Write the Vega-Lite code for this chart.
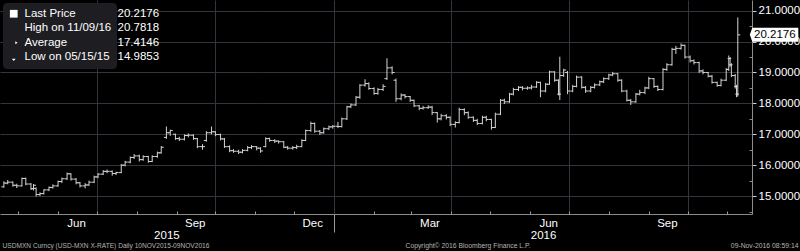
{
  "$schema": "https://vega.github.io/schema/vega-lite/v6.json",
  "width": 752,
  "height": 214,
  "autosize": "none",
  "padding": {"left": 0, "top": 0, "right": 48, "bottom": 37},
  "background": "#000000",
  "config": {
    "view": {"fill": "#08080e", "stroke": null},
    "font": "Liberation Sans"
  },
  "datasets": {
    "px": [
      {"d":"2015-04-20","o":15.30,"h":15.48,"l":15.27,"c":15.42},
      {"d":"2015-04-23","o":15.42,"h":15.52,"l":15.38,"c":15.45},
      {"d":"2015-04-27","o":15.45,"h":15.47,"l":15.30,"c":15.35},
      {"d":"2015-04-30","o":15.35,"h":15.40,"l":15.26,"c":15.33},
      {"d":"2015-05-04","o":15.33,"h":15.60,"l":15.31,"c":15.57},
      {"d":"2015-05-07","o":15.57,"h":15.60,"l":15.35,"c":15.39},
      {"d":"2015-05-11","o":15.39,"h":15.42,"l":15.20,"c":15.24},
      {"d":"2015-05-13","o":15.24,"h":15.39,"l":15.18,"c":15.35},
      {"d":"2015-05-15","o":15.25,"h":15.28,"l":14.9853,"c":15.05},
      {"d":"2015-05-18","o":15.05,"h":15.12,"l":15.00,"c":15.08},
      {"d":"2015-05-21","o":15.08,"h":15.22,"l":15.05,"c":15.20},
      {"d":"2015-05-25","o":15.20,"h":15.31,"l":15.16,"c":15.28},
      {"d":"2015-05-28","o":15.28,"h":15.38,"l":15.24,"c":15.33},
      {"d":"2015-06-01","o":15.33,"h":15.50,"l":15.30,"c":15.47},
      {"d":"2015-06-04","o":15.47,"h":15.60,"l":15.42,"c":15.56},
      {"d":"2015-06-08","o":15.56,"h":15.76,"l":15.52,"c":15.72},
      {"d":"2015-06-11","o":15.72,"h":15.74,"l":15.50,"c":15.55},
      {"d":"2015-06-15","o":15.55,"h":15.58,"l":15.38,"c":15.43},
      {"d":"2015-06-18","o":15.43,"h":15.46,"l":15.28,"c":15.33},
      {"d":"2015-06-22","o":15.33,"h":15.42,"l":15.25,"c":15.36},
      {"d":"2015-06-25","o":15.36,"h":15.50,"l":15.33,"c":15.45},
      {"d":"2015-06-29","o":15.45,"h":15.66,"l":15.42,"c":15.62},
      {"d":"2015-07-02","o":15.62,"h":15.74,"l":15.58,"c":15.71},
      {"d":"2015-07-06","o":15.71,"h":15.84,"l":15.68,"c":15.80},
      {"d":"2015-07-09","o":15.80,"h":15.86,"l":15.74,"c":15.80},
      {"d":"2015-07-13","o":15.80,"h":15.83,"l":15.66,"c":15.73},
      {"d":"2015-07-16","o":15.73,"h":15.79,"l":15.68,"c":15.76},
      {"d":"2015-07-20","o":15.76,"h":16.04,"l":15.74,"c":16.00},
      {"d":"2015-07-23","o":16.00,"h":16.14,"l":15.96,"c":16.10},
      {"d":"2015-07-27","o":16.10,"h":16.28,"l":16.06,"c":16.25},
      {"d":"2015-07-30","o":16.25,"h":16.36,"l":16.20,"c":16.30},
      {"d":"2015-08-03","o":16.30,"h":16.34,"l":16.12,"c":16.18},
      {"d":"2015-08-06","o":16.18,"h":16.32,"l":16.14,"c":16.28},
      {"d":"2015-08-10","o":16.28,"h":16.30,"l":16.08,"c":16.12},
      {"d":"2015-08-13","o":16.12,"h":16.32,"l":16.10,"c":16.28},
      {"d":"2015-08-17","o":16.28,"h":16.44,"l":16.24,"c":16.40},
      {"d":"2015-08-20","o":16.40,"h":16.62,"l":16.37,"c":16.58},
      {"d":"2015-08-24","o":16.90,"h":17.25,"l":16.85,"c":17.05},
      {"d":"2015-08-27","o":17.05,"h":17.15,"l":16.95,"c":17.12},
      {"d":"2015-08-31","o":17.00,"h":17.02,"l":16.82,"c":16.86},
      {"d":"2015-09-03","o":16.86,"h":16.92,"l":16.78,"c":16.84},
      {"d":"2015-09-07","o":16.84,"h":17.00,"l":16.80,"c":16.96},
      {"d":"2015-09-10","o":16.96,"h":17.03,"l":16.90,"c":16.97},
      {"d":"2015-09-14","o":16.97,"h":17.00,"l":16.82,"c":16.86},
      {"d":"2015-09-17","o":16.86,"h":16.88,"l":16.55,"c":16.60},
      {"d":"2015-09-21","o":16.60,"h":16.68,"l":16.50,"c":16.60},
      {"d":"2015-09-24","o":16.80,"h":17.10,"l":16.76,"c":17.05},
      {"d":"2015-09-28","o":17.05,"h":17.25,"l":17.00,"c":17.08},
      {"d":"2015-10-01","o":17.08,"h":17.10,"l":16.94,"c":16.99},
      {"d":"2015-10-05","o":16.99,"h":17.02,"l":16.80,"c":16.85},
      {"d":"2015-10-08","o":16.85,"h":16.88,"l":16.56,"c":16.60},
      {"d":"2015-10-12","o":16.60,"h":16.64,"l":16.42,"c":16.47},
      {"d":"2015-10-15","o":16.47,"h":16.52,"l":16.40,"c":16.45},
      {"d":"2015-10-19","o":16.45,"h":16.50,"l":16.36,"c":16.42},
      {"d":"2015-10-22","o":16.42,"h":16.52,"l":16.38,"c":16.48},
      {"d":"2015-10-26","o":16.48,"h":16.62,"l":16.45,"c":16.57},
      {"d":"2015-10-29","o":16.57,"h":16.65,"l":16.52,"c":16.60},
      {"d":"2015-11-02","o":16.60,"h":16.62,"l":16.48,"c":16.55},
      {"d":"2015-11-05","o":16.55,"h":16.58,"l":16.40,"c":16.46},
      {"d":"2015-11-09","o":16.60,"h":16.90,"l":16.58,"c":16.86},
      {"d":"2015-11-12","o":16.86,"h":16.89,"l":16.76,"c":16.80},
      {"d":"2015-11-16","o":16.80,"h":16.84,"l":16.72,"c":16.78},
      {"d":"2015-11-19","o":16.78,"h":16.80,"l":16.70,"c":16.76},
      {"d":"2015-11-23","o":16.76,"h":16.78,"l":16.55,"c":16.58},
      {"d":"2015-11-26","o":16.58,"h":16.62,"l":16.50,"c":16.55},
      {"d":"2015-11-30","o":16.55,"h":16.62,"l":16.50,"c":16.57},
      {"d":"2015-12-03","o":16.57,"h":16.66,"l":16.52,"c":16.60},
      {"d":"2015-12-07","o":16.60,"h":16.84,"l":16.58,"c":16.80},
      {"d":"2015-12-10","o":16.80,"h":17.15,"l":16.78,"c":17.12},
      {"d":"2015-12-14","o":17.12,"h":17.41,"l":17.08,"c":17.35},
      {"d":"2015-12-17","o":17.35,"h":17.38,"l":17.05,"c":17.10},
      {"d":"2015-12-21","o":17.10,"h":17.14,"l":16.98,"c":17.05},
      {"d":"2015-12-24","o":17.05,"h":17.22,"l":17.02,"c":17.18},
      {"d":"2015-12-28","o":17.18,"h":17.28,"l":17.14,"c":17.24},
      {"d":"2015-12-31","o":17.24,"h":17.30,"l":17.18,"c":17.26},
      {"d":"2016-01-04","o":17.26,"h":17.40,"l":17.20,"c":17.25},
      {"d":"2016-01-07","o":17.25,"h":17.54,"l":17.22,"c":17.50},
      {"d":"2016-01-11","o":17.50,"h":17.92,"l":17.46,"c":17.89},
      {"d":"2016-01-14","o":17.89,"h":18.00,"l":17.85,"c":17.95},
      {"d":"2016-01-18","o":17.95,"h":18.24,"l":17.92,"c":18.20},
      {"d":"2016-01-21","o":18.20,"h":18.62,"l":18.15,"c":18.59},
      {"d":"2016-01-25","o":18.59,"h":18.78,"l":18.54,"c":18.64},
      {"d":"2016-01-28","o":18.64,"h":18.68,"l":18.44,"c":18.48},
      {"d":"2016-02-01","o":18.48,"h":18.52,"l":18.28,"c":18.32},
      {"d":"2016-02-04","o":18.32,"h":18.50,"l":18.28,"c":18.45},
      {"d":"2016-02-08","o":18.45,"h":18.62,"l":18.40,"c":18.55},
      {"d":"2016-02-11","o":18.80,"h":19.46,"l":18.76,"c":19.15},
      {"d":"2016-02-15","o":19.15,"h":19.20,"l":18.94,"c":19.00},
      {"d":"2016-02-18","o":18.75,"h":18.80,"l":18.05,"c":18.15},
      {"d":"2016-02-22","o":18.15,"h":18.32,"l":18.10,"c":18.27},
      {"d":"2016-02-25","o":18.27,"h":18.30,"l":18.16,"c":18.22},
      {"d":"2016-02-29","o":18.22,"h":18.24,"l":18.05,"c":18.10},
      {"d":"2016-03-03","o":18.10,"h":18.12,"l":17.88,"c":17.92},
      {"d":"2016-03-07","o":17.92,"h":17.95,"l":17.78,"c":17.84},
      {"d":"2016-03-10","o":17.84,"h":17.92,"l":17.80,"c":17.86},
      {"d":"2016-03-14","o":17.86,"h":17.94,"l":17.82,"c":17.88},
      {"d":"2016-03-17","o":17.88,"h":17.92,"l":17.62,"c":17.70},
      {"d":"2016-03-21","o":17.70,"h":17.72,"l":17.38,"c":17.50},
      {"d":"2016-03-24","o":17.50,"h":17.66,"l":17.45,"c":17.60},
      {"d":"2016-03-28","o":17.60,"h":17.65,"l":17.48,"c":17.55},
      {"d":"2016-03-31","o":17.55,"h":17.58,"l":17.26,"c":17.32},
      {"d":"2016-04-04","o":17.32,"h":17.42,"l":17.22,"c":17.38},
      {"d":"2016-04-07","o":17.38,"h":17.86,"l":17.35,"c":17.80},
      {"d":"2016-04-11","o":17.80,"h":17.84,"l":17.62,"c":17.70},
      {"d":"2016-04-14","o":17.70,"h":17.74,"l":17.50,"c":17.55},
      {"d":"2016-04-18","o":17.55,"h":17.58,"l":17.40,"c":17.45},
      {"d":"2016-04-21","o":17.45,"h":17.50,"l":17.30,"c":17.35},
      {"d":"2016-04-25","o":17.35,"h":17.60,"l":17.32,"c":17.55},
      {"d":"2016-04-28","o":17.55,"h":17.60,"l":17.42,"c":17.48},
      {"d":"2016-05-02","o":17.48,"h":17.50,"l":17.15,"c":17.22},
      {"d":"2016-05-05","o":17.22,"h":17.70,"l":17.20,"c":17.65},
      {"d":"2016-05-09","o":17.65,"h":18.14,"l":17.62,"c":18.10},
      {"d":"2016-05-12","o":18.10,"h":18.15,"l":17.98,"c":18.05},
      {"d":"2016-05-16","o":18.05,"h":18.34,"l":18.02,"c":18.30},
      {"d":"2016-05-19","o":18.30,"h":18.50,"l":18.26,"c":18.45},
      {"d":"2016-05-23","o":18.45,"h":18.56,"l":18.40,"c":18.52},
      {"d":"2016-05-26","o":18.52,"h":18.56,"l":18.42,"c":18.49},
      {"d":"2016-05-30","o":18.49,"h":18.55,"l":18.44,"c":18.50},
      {"d":"2016-06-02","o":18.50,"h":18.60,"l":18.45,"c":18.53},
      {"d":"2016-06-06","o":18.53,"h":18.72,"l":18.50,"c":18.68},
      {"d":"2016-06-09","o":18.68,"h":18.70,"l":18.20,"c":18.40},
      {"d":"2016-06-13","o":18.40,"h":18.66,"l":18.36,"c":18.62},
      {"d":"2016-06-16","o":18.62,"h":19.06,"l":18.60,"c":19.02},
      {"d":"2016-06-20","o":19.02,"h":19.04,"l":18.70,"c":18.75},
      {"d":"2016-06-23","o":18.75,"h":18.78,"l":18.26,"c":18.30},
      {"d":"2016-06-24","o":18.30,"h":19.51,"l":18.11,"c":18.90},
      {"d":"2016-06-27","o":18.90,"h":19.12,"l":18.86,"c":19.08},
      {"d":"2016-06-30","o":19.00,"h":19.05,"l":18.30,"c":18.40},
      {"d":"2016-07-04","o":18.40,"h":18.60,"l":18.36,"c":18.55},
      {"d":"2016-07-07","o":18.55,"h":18.90,"l":18.52,"c":18.85},
      {"d":"2016-07-11","o":18.85,"h":18.88,"l":18.48,"c":18.52},
      {"d":"2016-07-14","o":18.52,"h":18.56,"l":18.34,"c":18.40},
      {"d":"2016-07-18","o":18.40,"h":18.56,"l":18.36,"c":18.52},
      {"d":"2016-07-21","o":18.52,"h":18.65,"l":18.48,"c":18.60},
      {"d":"2016-07-25","o":18.60,"h":18.74,"l":18.56,"c":18.70},
      {"d":"2016-07-28","o":18.70,"h":18.84,"l":18.66,"c":18.80},
      {"d":"2016-08-01","o":18.80,"h":18.96,"l":18.76,"c":18.92},
      {"d":"2016-08-04","o":18.92,"h":19.02,"l":18.88,"c":18.96},
      {"d":"2016-08-08","o":18.96,"h":18.98,"l":18.70,"c":18.75},
      {"d":"2016-08-11","o":18.75,"h":18.78,"l":18.36,"c":18.40},
      {"d":"2016-08-15","o":18.40,"h":18.44,"l":18.06,"c":18.10},
      {"d":"2016-08-18","o":18.10,"h":18.14,"l":17.95,"c":18.05},
      {"d":"2016-08-22","o":18.05,"h":18.34,"l":18.02,"c":18.30},
      {"d":"2016-08-25","o":18.30,"h":18.44,"l":18.26,"c":18.35},
      {"d":"2016-08-29","o":18.35,"h":18.54,"l":18.30,"c":18.50},
      {"d":"2016-09-01","o":18.50,"h":18.86,"l":18.46,"c":18.80},
      {"d":"2016-09-05","o":18.80,"h":18.82,"l":18.50,"c":18.55},
      {"d":"2016-09-08","o":18.55,"h":18.58,"l":18.40,"c":18.45},
      {"d":"2016-09-12","o":18.45,"h":19.14,"l":18.42,"c":19.10},
      {"d":"2016-09-15","o":19.10,"h":19.30,"l":19.05,"c":19.25},
      {"d":"2016-09-19","o":19.25,"h":19.80,"l":19.22,"c":19.75},
      {"d":"2016-09-22","o":19.75,"h":19.86,"l":19.60,"c":19.78},
      {"d":"2016-09-26","o":19.78,"h":19.94,"l":19.74,"c":19.88},
      {"d":"2016-09-29","o":19.88,"h":19.90,"l":19.45,"c":19.50},
      {"d":"2016-10-03","o":19.50,"h":19.55,"l":19.32,"c":19.38},
      {"d":"2016-10-06","o":19.38,"h":19.42,"l":19.26,"c":19.32},
      {"d":"2016-10-10","o":19.32,"h":19.35,"l":18.98,"c":19.05},
      {"d":"2016-10-13","o":19.05,"h":19.10,"l":18.94,"c":19.00},
      {"d":"2016-10-17","o":19.00,"h":19.02,"l":18.84,"c":18.88},
      {"d":"2016-10-20","o":18.88,"h":18.92,"l":18.64,"c":18.68},
      {"d":"2016-10-24","o":18.68,"h":18.70,"l":18.54,"c":18.58},
      {"d":"2016-10-27","o":18.58,"h":18.80,"l":18.55,"c":18.75},
      {"d":"2016-10-31","o":18.75,"h":19.14,"l":18.72,"c":19.10},
      {"d":"2016-11-02","o":19.10,"h":19.55,"l":19.05,"c":19.45},
      {"d":"2016-11-03","o":19.45,"h":19.50,"l":19.18,"c":19.25},
      {"d":"2016-11-04","o":19.25,"h":19.30,"l":18.85,"c":18.90},
      {"d":"2016-11-07","o":18.90,"h":18.95,"l":18.48,"c":18.55},
      {"d":"2016-11-08","o":18.55,"h":18.60,"l":18.20,"c":18.30},
      {"d":"2016-11-09","o":18.30,"h":20.7818,"l":18.22,"c":20.2176}
    ],
    "last": [
      {"d":"2016-11-09","p":20.2176,"t":"20.2176"}
    ],
    "legend": [
      {"item":"Last Price","val":"20.2176"},
      {"item":"High on 11/09/16","val":"20.7818"},
      {"item":"Average","val":"17.4146"},
      {"item":"Low on 05/15/15","val":"14.9853"}
    ]
  },
  "layer": [
    {
      "data": {"name": "px"},
      "mark": {"type": "rule", "color": "#d4d4d4", "strokeWidth": 1},
      "encoding": {
        "x": {
          "field": "d", "type": "temporal",
          "scale": {"type": "utc", "domain": [{"year":2015,"month":4,"date":17,"utc":true},{"year":2016,"month":11,"date":20,"utc":true}]},
          "axis": {
            "orient": "bottom",
            "values": [
              {"year":2015,"month":5,"date":1,"utc":true},
              {"year":2015,"month":6,"date":1,"utc":true},
              {"year":2015,"month":7,"date":1,"utc":true},
              {"year":2015,"month":8,"date":1,"utc":true},
              {"year":2015,"month":9,"date":1,"utc":true},
              {"year":2015,"month":10,"date":1,"utc":true},
              {"year":2015,"month":11,"date":1,"utc":true},
              {"year":2015,"month":12,"date":1,"utc":true},
              {"year":2016,"month":1,"date":1,"utc":true},
              {"year":2016,"month":2,"date":1,"utc":true},
              {"year":2016,"month":3,"date":1,"utc":true},
              {"year":2016,"month":4,"date":1,"utc":true},
              {"year":2016,"month":5,"date":1,"utc":true},
              {"year":2016,"month":6,"date":1,"utc":true},
              {"year":2016,"month":7,"date":1,"utc":true},
              {"year":2016,"month":8,"date":1,"utc":true},
              {"year":2016,"month":9,"date":1,"utc":true},
              {"year":2016,"month":10,"date":1,"utc":true},
              {"year":2016,"month":11,"date":1,"utc":true}
            ],
            "labels": false,
            "domain": true, "domainColor": "#8c8c8c", "domainWidth": 1,
            "ticks": true, "tickColor": "#9a9a9a",
            "tickSize": {"condition": {"test": "utcmonth(datum.value) == 0", "value": 18}, "value": -3},
            "grid": true, "gridColor": "#34343d",
            "gridOpacity": {"condition": {"test": "utcmonth(datum.value) % 3 == 0", "value": 1}, "value": 0},
            "title": "USDMXN Curncy (USD-MXN X-RATE)  Daily 10NOV2015-09NOV2016",
            "titleX": 2, "titleY": 31, "titleAlign": "left", "titleBaseline": "middle",
            "titleFontSize": 6.6, "titleFontWeight": "normal", "titleColor": "#b4b4b4"
          }
        },
        "y": {
          "field": "l", "type": "quantitative",
          "scale": {"domain": [14.42, 21.346], "zero": false, "nice": false},
          "axis": {
            "orient": "right",
            "values": [15, 16, 17, 18, 19, 20, 21],
            "format": ".4f",
            "grid": true, "gridColor": "#34343d",
            "domain": true, "domainColor": "#8c8c8c",
            "ticks": true, "tickSize": 4, "tickColor": "#cfcfcf",
            "labelColor": "#ffffff", "labelFontSize": 11.5, "labelPadding": 2,
            "title": null
          }
        },
        "y2": {"field": "h"}
      }
    },
    {
      "data": {"name": "px"},
      "mark": {"type": "point", "shape": "M -1 0 L 0 0", "size": 25, "filled": false, "color": "#d4d4d4", "strokeWidth": 1, "opacity": 1},
      "encoding": {
        "x": {
          "field": "d", "type": "temporal",
          "axis": {
            "orient": "bottom",
            "values": [
              {"year":2015,"month":6,"date":15,"utc":true},
              {"year":2015,"month":9,"date":15,"utc":true},
              {"year":2015,"month":12,"date":15,"utc":true},
              {"year":2016,"month":3,"date":15,"utc":true},
              {"year":2016,"month":6,"date":15,"utc":true},
              {"year":2016,"month":9,"date":15,"utc":true}
            ],
            "labelExpr": "utcFormat(datum.value, '%b')",
            "ticks": false, "domain": false, "grid": false,
            "labelColor": "#ffffff", "labelFontSize": 11.5, "labelPadding": 3,
            "title": "Copyright© 2016 Bloomberg Finance L.P.",
            "titleX": 405, "titleY": 31, "titleAlign": "left", "titleBaseline": "middle",
            "titleFontSize": 6.8, "titleFontWeight": "normal", "titleColor": "#b4b4b4"
          }
        },
        "y": {
          "field": "o", "type": "quantitative",
          "axis": {
            "orient": "right",
            "values": [14.5, 15.5, 16.5, 17.5, 18.5, 19.5, 20.5],
            "labels": false, "domain": false, "grid": false,
            "ticks": true, "tickSize": -3, "tickColor": "#8c8c8c",
            "title": null
          }
        }
      }
    },
    {
      "data": {"name": "px"},
      "mark": {"type": "point", "shape": "M 0 0 L 1 0", "size": 25, "filled": false, "color": "#d4d4d4", "strokeWidth": 1, "opacity": 1},
      "encoding": {
        "x": {
          "field": "d", "type": "temporal",
          "axis": {
            "orient": "bottom",
            "values": [
              {"year":2015,"month":8,"date":24,"utc":true},
              {"year":2016,"month":6,"date":11,"utc":true}
            ],
            "labelExpr": "utcFormat(datum.value, '%Y')",
            "ticks": false, "domain": false, "grid": false,
            "labelColor": "#ffffff", "labelFontSize": 11.5, "labelPadding": 15,
            "title": "09-Nov-2016 08:59:14",
            "titleX": 798, "titleY": 31, "titleAlign": "right", "titleBaseline": "middle",
            "titleFontSize": 6.8, "titleFontWeight": "normal", "titleColor": "#b4b4b4"
          }
        },
        "y": {"field": "c", "type": "quantitative", "axis": null}
      }
    },
    {
      "data": {"name": "last"},
      "mark": {"type": "point", "shape": "M 1.2 0 L 1.45 -0.7 L 6.05 -0.7 L 6.05 0.7 L 1.45 0.7 Z", "size": 400, "filled": true, "color": "#ffffff", "opacity": 1},
      "encoding": {
        "x": {"field": "d", "type": "temporal", "axis": null},
        "y": {"field": "p", "type": "quantitative", "axis": null}
      }
    },
    {
      "data": {"name": "last"},
      "mark": {"type": "text", "dx": 37, "align": "center", "baseline": "middle", "fontSize": 11.5, "color": "#000000"},
      "encoding": {
        "x": {"field": "d", "type": "temporal", "axis": null},
        "y": {"field": "p", "type": "quantitative", "axis": null},
        "text": {"field": "t"}
      }
    },
    {
      "data": {"name": "legend"},
      "mark": {"type": "point", "opacity": 0, "fill": "#ffffff", "stroke": "#b0b0b0", "strokeWidth": 1, "filled": true},
      "encoding": {
        "shape": {
          "field": "item", "type": "nominal",
          "scale": {
            "domain": ["Last Price", "High on 11/09/16", "Average", "Low on 05/15/15"],
            "range": [
              "M -1 -1 L 1 -1 L 1 1 L -1 1 Z",
              "M -0.7 -1 L 0.7 -1 M 0 -1 L 0 1",
              "M -1 0 L 1 0 M 0.4 -0.4 L 1 0 L 0.4 0.4",
              "M 0 -1 L 0 1 M -0.5 0.4 L 0 1 L 0.5 0.4"
            ]
          },
          "legend": {
            "orient": "none", "legendX": 3, "legendY": 3, "zindex": 1,
            "title": null, "padding": 5, "fillColor": "#1d1d22", "cornerRadius": 4,
            "labelExpr": "datum.label + '               '",
            "labelColor": "#ffffff", "labelFontSize": 11.5, "labelOffset": 5,
            "symbolSize": 60, "symbolOpacity": 1, "symbolFillColor": "#ffffff",
            "symbolStrokeColor": "#b0b0b0", "symbolStrokeWidth": 1, "rowPadding": 1.5
          }
        },
        "strokeDash": {
          "field": "val", "type": "nominal",
          "scale": {
            "domain": ["20.2176", "20.7818", "17.4146", "14.9853"],
            "range": [[1, 0], [1, 0], [1, 0], [1, 0]]
          },
          "legend": {
            "orient": "none", "legendX": 101, "legendY": 3, "zindex": 2,
            "title": null, "padding": 5,
            "labelColor": "#ffffff", "labelFontSize": 11.5, "labelOffset": 0,
            "symbolType": "circle", "symbolOpacity": 0, "symbolSize": 0, "symbolStrokeWidth": 0, "rowPadding": 1.5
          }
        }
      }
    }
  ],
  "resolve": {"axis": {"x": "independent", "y": "independent"}}
}
